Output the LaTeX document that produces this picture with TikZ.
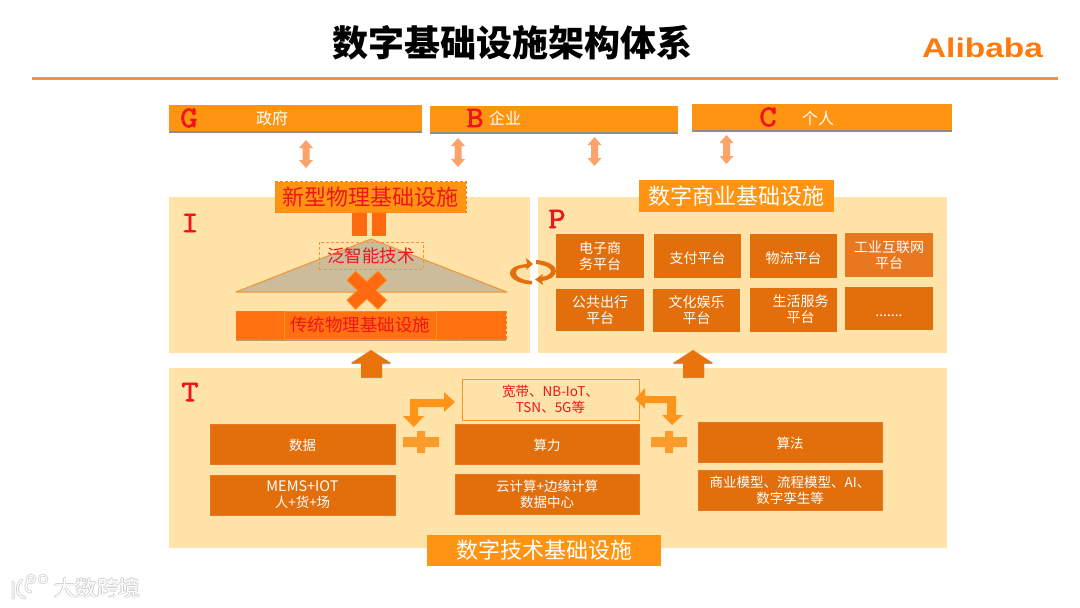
\documentclass[tikz,border=0pt]{standalone}
\usepackage{fontspec}
\setmainfont{Noto Sans CJK SC}
\newfontfamily\latinb{Liberation Sans}
\newfontfamily\slab[FakeBold=2.2]{Latin Modern Mono}
\usetikzlibrary{shadows,arrows.meta}
\definecolor{panel}{HTML}{FFE3A8}
\definecolor{barorange}{HTML}{FF9412}
\definecolor{boxorange}{HTML}{E36F0C}
\definecolor{boxlight}{HTML}{E8771F}
\definecolor{deep}{HTML}{FF6A10}
\definecolor{lightarrow}{HTML}{FBA368}
\definecolor{rulecol}{HTML}{F59331}
\definecolor{upcol}{HTML}{EA730C}
\definecolor{bent}{HTML}{FF9518}
\definecolor{plus}{HTML}{F99C2C}
\definecolor{redtxt}{HTML}{F0141E}
\definecolor{logocol}{HTML}{FF7A0A}
\definecolor{triangle}{HTML}{CBBC9C}
\definecolor{halocol}{HTML}{CFCFCF}
\newcommand{\fs}[2]{\fontsize{#1}{#2}\selectfont}
\newcommand{\halo}[1]{\textcolor{halocol}{\rlap{\kern-.8pt #1}\rlap{\kern.8pt #1}\rlap{\raisebox{.8pt}{#1}}\rlap{\raisebox{-.8pt}{#1}}}\textcolor{white}{#1}}
\tikzset{
  every node/.style={inner sep=0pt,outer sep=0pt,align=center},
  sized/.style n args={2}{minimum width=#1pt,minimum height=#2pt},
  panelbox/.style={fill=panel},
  topbar/.style={fill=barorange,drop shadow={shadow xshift=0pt,shadow yshift=-1.6pt,fill=black,opacity=.45}},
  titlebar/.style={fill=barorange,text=white,font=\fs{22}{26}},
  platbox/.style={fill=boxorange,text=white,font=\fs{14}{16},execute at begin node={\rule{0pt}{15.5pt}}},
  techbox/.style={fill=boxorange,draw=boxlight,line width=.5pt,text=white,font=\fs{13.5}{16},execute at begin node={\rule{0pt}{15pt}}},
  bartext/.style={text=white,font=\fs{16}{20}},
  letter/.style={text=redtxt,font=\slab\fs{30}{30},xscale=1.12},
  dblarrow/.style={fill=lightarrow},
  uparrow/.style={fill=upcol,drop shadow={shadow xshift=0pt,shadow yshift=-1pt,fill=black,opacity=.35}},
  bentarrow/.style={fill=bent},
  plussign/.style={fill=plus},
  cyc/.style={fill=boxorange},
}
\newcommand{\dbl}[3]{\fill[dblarrow] (#1,#2) -- (#1+7,#2+8) -- (#1+3.5,#2+8) -- (#1+3.5,#3-8) -- (#1+7,#3-8) -- (#1,#3) -- (#1-7,#3-8) -- (#1-3.5,#3-8) -- (#1-3.5,#2+8) -- (#1-7,#2+8) -- cycle;}
\newcommand{\upa}[1]{\path[uparrow] (#1,350) -- (#1+20,363) -- (#1+11,363) -- (#1+11,377) -- (#1-10,377) -- (#1-10,363) -- (#1-20,363) -- cycle;}
\newcommand{\plusat}[1]{\fill[plussign] (#1-18,437) -- (#1-4,437) -- (#1-4,431) -- (#1+4,431) -- (#1+4,437) -- (#1+18,437) -- (#1+18,447) -- (#1+4,447) -- (#1+4,453) -- (#1-4,453) -- (#1-4,447) -- (#1-18,447) -- cycle;}
\begin{document}
\begin{tikzpicture}[x=1pt,y=-1pt]
\useasboundingbox (0,0) rectangle (1080,608);
\fill[white] (0,0) rectangle (1080,608);
% title
\node[font=\bfseries\fs{36}{40}] (title) at (512.5,43) {数字基础设施架构体系};
\node[font=\latinb\bfseries\fs{27}{30},text=logocol,xscale=1.24] (logo) at (982.5,47.5) {Alibaba};
\draw[rulecol,line width=3pt] (32,78) -- (1058,78);
% top bars
\node[topbar,sized={253}{26}] (g) at (295.5,118) {};
\node[topbar,sized={248}{26}] (b) at (554,119) {};
\node[topbar,sized={260}{26}] (c) at (822,117) {};
\node[letter] (gl) at (189,118) {G};
\node[bartext] (gt) at (272,118) {政府};
\node[letter] (bl) at (475,118) {B};
\node[bartext] (bt) at (505,118) {企业};
\node[letter] (cl) at (768,117) {C};
\node[bartext] (ct) at (818,118) {个人};
\dbl{306}{140}{168}
\dbl{458}{138}{167}
\dbl{594.5}{137}{166}
\dbl{726.5}{135}{164}
% panels
\node[panelbox,sized={361}{156}] (pi) at (349.5,275) {};
\node[panelbox,sized={409}{156}] (pp) at (742.5,275) {};
\node[panelbox,sized={778}{180}] (pt) at (558,458) {};
\node[letter] (il) at (190,223) {I};
\node[letter] (pl) at (557,219) {P};
\node[letter] (tl) at (190,392) {T};
% panel I
\node[fill=barorange,draw=deep!45!barorange,densely dashed,line width=.5pt,text=redtxt,font=\fs{22}{26},sized={191}{31}] (new) at (370.5,197) {新型物理基础设施};
\fill[deep] (352,212.5) rectangle (367,236);
\fill[deep] (372,212.5) rectangle (386,236);
\draw[fill=triangle,draw=rulecol,line width=1pt,line join=round] (371,239) -- (507,292) -- (236,292) -- cycle;
\node[draw=rulecol,densely dashed,line width=.5pt,text=redtxt,font=\fs{17.5}{20},sized={104}{27}] (ai) at (371,255.5) {泛智能技术};
\draw[barorange,line width=13.5pt] (351,275.5) -- (382.5,305);
\draw[barorange,line width=13.5pt] (382.5,275.5) -- (351,305);
\draw[deep,line width=11.5pt] (351.5,276) -- (382,304.5);
\draw[deep,line width=11.5pt] (382,276) -- (351.5,304.5);
\path[fill=black,opacity=.3] (236,338) rectangle (506,341);
\node[fill=deep!85!barorange,draw=deep!70!barorange,densely dashed,line width=.4pt,sized={270}{28}] (old) at (371,325) {};
\node[fill=deep!85!barorange,draw=barorange,line width=.4pt,text=redtxt,font=\fs{17.5}{20},sized={152}{28}] (oldt) at (360,325) {传统物理基础设施};
% panel P
\node[titlebar,sized={195}{32}] (biz) at (736.5,196) {数字商业基础设施};
\node[platbox,sized={88}{44}] (p1) at (600,256) {电子商\\务平台};
\node[platbox,sized={87}{44}] (p2) at (697.5,256) {支付平台};
\node[platbox,sized={87}{44}] (p3) at (793.5,256) {物流平台};
\node[platbox,fill=boxlight,sized={88}{44}] (p4) at (889,255) {工业互联网\\平台};
\node[platbox,sized={88}{42}] (p5) at (600,310) {公共出行\\平台};
\node[platbox,sized={87}{43}] (p6) at (696.5,310.5) {文化娱乐\\平台};
\node[platbox,sized={87}{44}] (p7) at (793.5,310) {};
\node[platbox,fill=none] (p7t) at (800.5,309.5) {生活服务\\平台};
\node[platbox,sized={88}{43}] (p8) at (889,308.5) {.......};
% cycle arrows
\fill[cyc] (527,264) .. controls (516,265) and (510,268) .. (510,273) .. controls (510,279) and (519,284) .. (532,284.5) -- (532,281) .. controls (522,280) and (516,277) .. (516,273) .. controls (516,269) and (520,267.5) .. (527,267.5) -- (526,270) -- (533,264) -- (526,258) -- cycle;
\fill[cyc] (536,260) .. controls (549,261) and (556,266) .. (556,271) .. controls (556,276) and (550,280) .. (542,281) -- (543,285) -- (535,279.5) -- (543,274) -- (542,277) .. controls (547,276) and (551,274) .. (551,271) .. controls (551,268) and (545,265) .. (536,264) -- cycle;
% up arrows
\upa{371}
\upa{693}
% panel T
\node[draw=rulecol,line width=.8pt,text=redtxt,font=\fs{13.5}{16},sized={177}{41}] (net) at (550.5,399.5) {宽带、NB-IoT、\\TSN、5G等};
\fill[bentarrow] (455,402) -- (444,392) -- (444,399) -- (410,399) -- (410,416) -- (403,416) -- (414,427) -- (424,416) -- (418,416) -- (418,407) -- (444,407) -- (444,412) -- cycle;
\fill[bentarrow] (635,399) -- (645,388) -- (645,396) -- (676,396) -- (676,415) -- (683,415) -- (672,425) -- (662,415) -- (667,415) -- (667,403) -- (645,403) -- (645,409) -- cycle;
\plusat{421}
\plusat{669}
\node[techbox,sized={185}{40}] (d1) at (302.5,444) {数据};
\node[techbox,sized={185}{40}] (d2) at (302.5,495) {{\fs{14.5}{16}MEMS+IOT}\\人+货+场};
\node[techbox,sized={184}{40}] (s1) at (547,444) {算力};
\node[techbox,sized={184}{40}] (s2) at (547,494) {云计算+边缘计算\\数据中心};
\node[techbox,sized={184}{40}] (a1) at (790,442) {算法};
\node[techbox,sized={184}{40}] (a2) at (790,490) {商业模型、流程模型、AI、\\数字孪生等};
\node[titlebar,sized={234}{31}] (tech) at (544,550.5) {数字技术基础设施};
% watermark
\node[font=\fs{21.5}{24}] (wm) at (97,588) {\halo{大数跨境}};
\draw[halocol,line width=3pt,line cap=round] (13,582) -- (13,598) (22,580) .. controls (15,586) and (16,596) .. (25,598) (34,580) .. controls (25,578) and (23,592) .. (31,592);
\draw[halocol,line width=2.4pt] (31,579) circle[radius=4] (43,579) circle[radius=4];
\draw[white,line width=1.4pt,line cap=round] (13,582) -- (13,598) (22,580) .. controls (15,586) and (16,596) .. (25,598) (34,580) .. controls (25,578) and (23,592) .. (31,592);
\draw[white,line width=1pt] (31,579) circle[radius=4] (43,579) circle[radius=4];
\end{tikzpicture}
\end{document}
